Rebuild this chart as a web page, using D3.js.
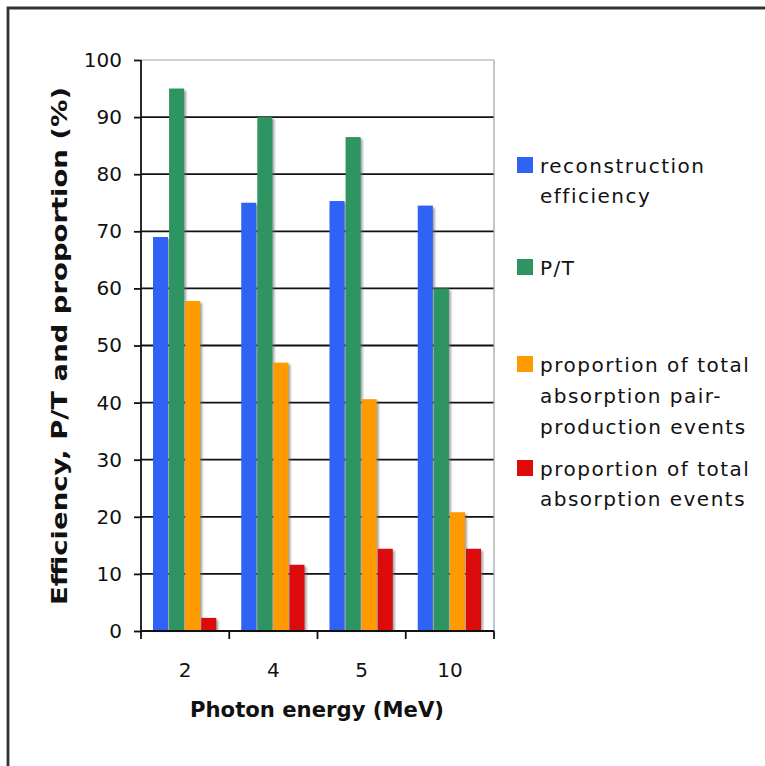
<!DOCTYPE html>
<html>
<head>
<meta charset="utf-8">
<script src="https://cdn.jsdelivr.net/npm/d3@7"></script>
<style>
  body { margin: 0; background: #fff; }
  text { font-family: "DejaVu Sans", Verdana, sans-serif; fill: #111; }
</style>
</head>
<body>
<svg id="chart" width="765" height="766"></svg>
<script>
// Photon energies (MeV) on the category axis
const energies = ["2", "4", "5", "10"];

// Series values, in percent
const reconstructionEfficiency = [69, 75, 75.3, 74.5];
const peakToTotal = [95, 90, 86.5, 60];
const pairProductionProportion = [57.8, 47, 40.6, 20.8];
const totalAbsorptionProportion = [2.3, 11.6, 14.4, 14.4];

const seriesKeys = ["reco", "pt", "pair", "total"];
const seriesValues = [reconstructionEfficiency, peakToTotal, pairProductionProportion, totalAbsorptionProportion];
const seriesColors = ["#2f63f5", "#2e9462", "#ff9a00", "#dc0a0a"];
const legendLines = [
  ["reconstruction", "efficiency"],
  ["P/T"],
  ["proportion of total", "absorption pair-", "production events"],
  ["proportion of total", "absorption events"]
];

const yTicks = [0, 10, 20, 30, 40, 50, 60, 70, 80, 90, 100];
const xTitle = "Photon energy (MeV)";
const yTitle = "Efficiency, P/T and proportion (%)";

const svg = d3.select("#chart");

// outer frame (top and left edges visible)
svg.append("path")
  .attr("d", "M8,766 L8,8 L765,8")
  .attr("fill", "none")
  .attr("stroke", "#333")
  .attr("stroke-width", 2.8);

const plot = { left: 141, right: 494, top: 60, bottom: 631 };

const x = d3.scaleBand().domain(energies).range([plot.left, plot.right]);
const xs = d3.scaleBand().domain(seriesKeys).range([12, x.bandwidth() - 12]);
const y = d3.scaleLinear().domain([0, 100]).range([plot.bottom, plot.top]);

// gridlines
svg.append("g").selectAll("line")
  .data(yTicks.filter(d => d > 0))
  .join("line")
  .attr("x1", plot.left).attr("x2", plot.right)
  .attr("y1", d => y(d)).attr("y2", d => y(d))
  .attr("stroke", d => d === 100 ? "#a0a0a0" : "#111")
  .attr("stroke-width", d => d === 100 ? 1.2 : 1.8);

// right border of plot area
svg.append("line")
  .attr("x1", plot.right).attr("x2", plot.right)
  .attr("y1", plot.top).attr("y2", plot.bottom)
  .attr("stroke", "#a0a0a0").attr("stroke-width", 1.2);

// bar shadows then bars
const defs = svg.append("defs");
defs.append("filter").attr("id", "soft")
  .append("feGaussianBlur").attr("stdDeviation", 0.8);

const bars = svg.append("g");
seriesKeys.forEach((key, si) => {
  const vals = seriesValues[si];
  bars.append("g").selectAll("rect")
    .data(energies.map((e, i) => ({ e, v: vals[i] })))
    .join("rect")
    .attr("x", d => x(d.e) + xs(key) + 2)
    .attr("y", d => y(d.v) + 2)
    .attr("width", xs.bandwidth() - 1)
    .attr("height", d => y(0) - y(d.v) - 2)
    .attr("fill", "#666")
    .attr("opacity", 0.6)
    .attr("filter", "url(#soft)");
  bars.append("g").selectAll("rect")
    .data(energies.map((e, i) => ({ e, v: vals[i] })))
    .join("rect")
    .attr("x", d => x(d.e) + xs(key))
    .attr("y", d => y(d.v))
    .attr("width", xs.bandwidth() - 1)
    .attr("height", d => y(0) - y(d.v))
    .attr("fill", seriesColors[si]);
});

// y axis
const yAxis = svg.append("g")
  .attr("transform", `translate(${plot.left},0)`)
  .call(d3.axisLeft(y).tickValues(yTicks).tickSize(7).tickPadding(12).tickFormat(d3.format("d")));
yAxis.select(".domain").attr("stroke", "#111").attr("stroke-width", 1.8)
  .attr("d", `M0,${plot.top}V${plot.bottom}`);
yAxis.selectAll(".tick line").attr("stroke", "#111").attr("stroke-width", 1.8);
yAxis.selectAll(".tick text")
  .style("font-family", "'DejaVu Sans', Verdana, sans-serif")
  .style("font-size", "20px").attr("fill", "#222");

// x axis: labels centred in bands, ticks at band boundaries
const xAxis = svg.append("g")
  .attr("transform", `translate(0,${plot.bottom})`)
  .call(d3.axisBottom(x).tickSize(0).tickPadding(32));
xAxis.select(".domain").attr("stroke", "#111").attr("stroke-width", 1.8)
  .attr("d", `M${plot.left},0H${plot.right}`);
xAxis.selectAll(".tick text")
  .style("font-family", "'DejaVu Sans', Verdana, sans-serif")
  .style("font-size", "20px").attr("fill", "#222");
xAxis.selectAll("line.boundary")
  .data([plot.left, ...energies.map(e => x(e) + x.bandwidth())])
  .join("line").attr("class", "boundary")
  .attr("x1", d => d).attr("x2", d => d)
  .attr("y1", 0).attr("y2", 8)
  .attr("stroke", "#111").attr("stroke-width", 1.8);

// axis titles
svg.append("text")
  .attr("x", 317).attr("y", 717)
  .attr("text-anchor", "middle")
  .attr("textLength", 254).attr("lengthAdjust", "spacingAndGlyphs")
  .style("font-weight", "bold").style("font-size", "21px")
  .text(xTitle);

svg.append("text")
  .attr("transform", "translate(67,346) rotate(-90)")
  .attr("text-anchor", "middle")
  .attr("textLength", 518).attr("lengthAdjust", "spacingAndGlyphs")
  .style("font-weight", "bold").style("font-size", "21px")
  .text(yTitle);

// legend
const legendBaselines = [[173, 203], [275], [372, 403, 434], [476, 506]];
const legend = svg.append("g");
legendLines.forEach((lines, i) => {
  const g = legend.append("g");
  g.append("rect")
    .attr("x", 517).attr("y", legendBaselines[i][0] - 16)
    .attr("width", 16).attr("height", 16)
    .attr("fill", seriesColors[i]);
  g.selectAll("text").data(lines).join("text")
    .attr("x", 540)
    .attr("y", (d, j) => legendBaselines[i][j])
    .style("font-size", "20px")
    .style("letter-spacing", "1.5px")
    .attr("fill", "#222")
    .text(d => d);
});
</script>
</body>
</html>
